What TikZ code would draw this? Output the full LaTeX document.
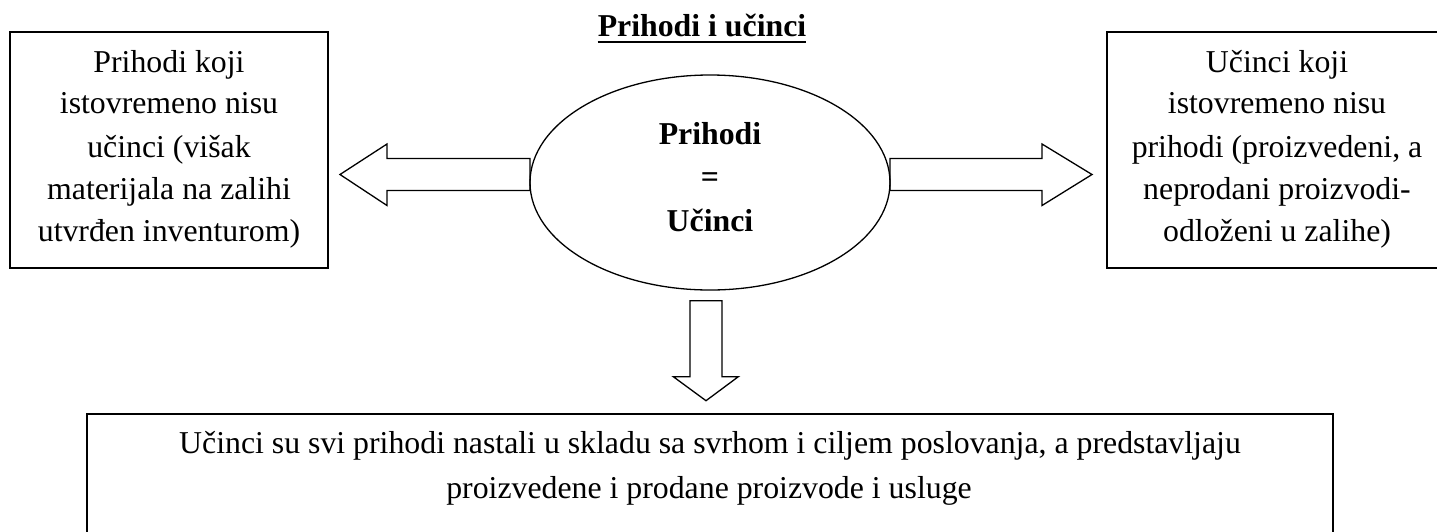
\documentclass[tikz,border=0pt]{standalone}
\usepackage{fontspec}
\setmainfont{Liberation Serif}
\usetikzlibrary{shapes.geometric}
\tikzset{
  box/.style={draw, line width=1.6pt, rectangle, inner sep=0pt},
  oval/.style={draw, ellipse, line width=1.3pt, inner sep=0pt},
  txt/.style={font=\fontsize{31.8}{38}\selectfont, anchor=base, inner sep=0pt},
  btxt/.style={font=\fontsize{31.8}{38}\selectfont\bfseries, anchor=base, inner sep=0pt},
  blockarrow/.style={draw, line width=1.3pt, line join=miter, fill=white}
}
\begin{document}
\begin{tikzpicture}[x=1pt,y=-1pt]
\useasboundingbox (0,0) rectangle (1437,531);
\clip (0,0) rectangle (1437,531);
\fill[white] (0,0) rectangle (1437,531);

% title
\node[btxt] (title) at (702,36) {Prihodi i učinci};
\draw[line width=2.2pt] ([yshift=-6pt]title.base west) -- ([yshift=-6pt]title.base east);

% boxes
\node[box, minimum width=318pt, minimum height=236pt] (leftbox) at (169,150) {};
\node[box, minimum width=340pt, minimum height=236pt] (rightbox) at (1277,150) {};
\node[box, minimum width=1246pt, minimum height=200pt, anchor=north] (bottombox) at (710,413) {};

% block arrows
\draw[blockarrow] (530,158.5) -- (387,158.5) -- (387,144) -- (340,174.5) -- (387,205.5) -- (387,190.5) -- (530,190.5) -- cycle;
\draw[blockarrow] (890,158.5) -- (1042,158.5) -- (1042,144) -- (1092,174.5) -- (1042,205.5) -- (1042,190.5) -- (890,190.5) -- cycle;
\draw[blockarrow] (690,300.7) -- (722,300.7) -- (722,376.7) -- (738.3,376.7) -- (706,400.7) -- (673.3,376.7) -- (690,376.7) -- cycle;

% central ellipse
\node[oval, minimum width=360pt, minimum height=215pt] (center) at (710,182.5) {};
\node[btxt] (c1) at (710,144) {Prihodi};
\node[btxt] (c2) at (710,187.5) {=};
\node[btxt] (c3) at (710,231) {Učinci};

% left box text
\node[txt] (l1) at (169,72) {Prihodi koji};
\node[txt] (l2) at (169,113) {istovremeno nisu};
\node[txt] (l3) at (169,157) {učinci (višak};
\node[txt] (l4) at (169,199) {materijala na zalihi};
\node[txt] (l5) at (169,241) {utvrđen inventurom)};

% right box text
\node[txt] (r1) at (1277,72) {Učinci koji};
\node[txt] (r2) at (1277,113) {istovremeno nisu};
\node[txt] (r3) at (1277,157) {prihodi (proizvedeni, a};
\node[txt] (r4) at (1277,199) {neprodani proizvodi-};
\node[txt] (r5) at (1277,241) {odloženi u zalihe)};

% bottom box text
\node[txt] (b1) at (710,453) {Učinci su svi prihodi nastali u skladu sa svrhom i ciljem poslovanja, a predstavljaju};
\node[txt] (b2) at (709,498) {proizvedene i prodane proizvode i usluge};
\end{tikzpicture}
\end{document}
